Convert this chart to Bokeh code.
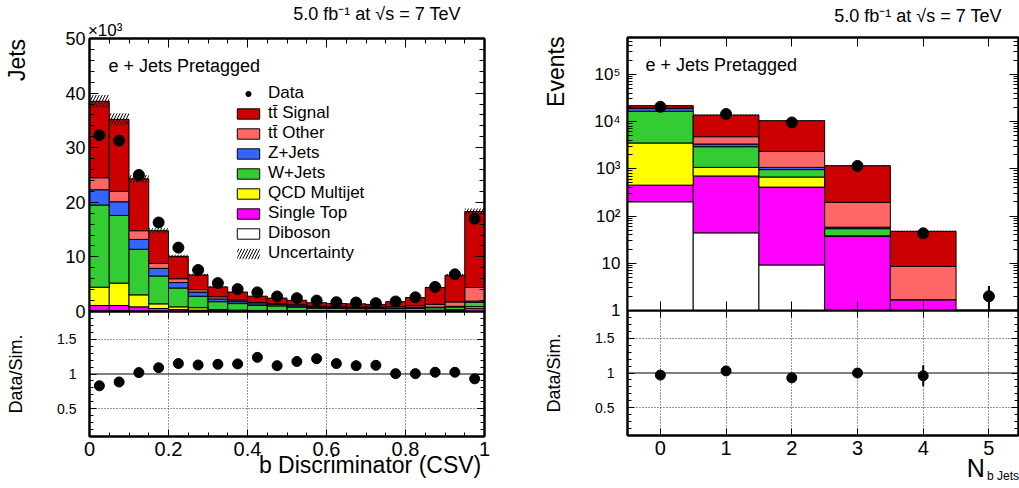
from bokeh.plotting import figure
from bokeh.models import (LinearAxis, LogAxis, FixedTicker, Label, Legend, LegendItem,
                          Span, CustomJSTickFormatter)
from bokeh.layouts import row, column
from bokeh.embed import file_html
from bokeh.resources import INLINE

FONT = "Liberation Sans"
NB = "\u00a0"

# ---------------- left: b discriminator (values in units of 10^3 jets) ----------------
csv_edges = [0.0, 0.05, 0.1, 0.15, 0.2, 0.25, 0.3, 0.35, 0.4, 0.45, 0.5,
             0.55, 0.6, 0.65, 0.7, 0.75, 0.8, 0.85, 0.9, 0.95, 1.0]
csv_centers = [0.025, 0.075, 0.125, 0.175, 0.225, 0.275, 0.325, 0.375, 0.425, 0.475,
               0.525, 0.575, 0.625, 0.675, 0.725, 0.775, 0.825, 0.875, 0.925, 0.975]
csv_diboson = [0.15, 0.15, 0.1, 0.08, 0.05, 0.04, 0.03, 0.03, 0.02, 0.02,
               0.02, 0.02, 0.02, 0.02, 0.02, 0.02, 0.02, 0.02, 0.03, 0.05]
csv_single_top = [0.95, 0.95, 0.75, 0.47, 0.3, 0.21, 0.17, 0.12, 0.13, 0.1,
                  0.1, 0.1, 0.1, 0.1, 0.1, 0.1, 0.12, 0.15, 0.2, 0.55]
csv_qcd = [3.35, 4.1, 2.2, 0.85, 0.5, 0.45, 0.15, 0.1, 0.05, 0.05,
           0.05, 0.05, 0.05, 0.05, 0.05, 0.05, 0.05, 0.08, 0.1, 0.3]
csv_wjets = [15.05, 12.4, 8.35, 5.1, 3.45, 2.1, 1.45, 1.2, 0.9, 0.85,
             0.65, 0.45, 0.4, 0.35, 0.35, 0.35, 0.4, 0.45, 0.5, 0.8]
csv_zjets = [2.8, 2.5, 1.8, 1.4, 1.0, 0.75, 0.5, 0.35, 0.3, 0.25,
             0.2, 0.15, 0.1, 0.1, 0.1, 0.1, 0.1, 0.1, 0.12, 0.2]
csv_tt_other = [2.2, 1.9, 1.6, 0.9, 0.7, 0.45, 0.4, 0.3, 0.25, 0.2,
                0.2, 0.2, 0.2, 0.2, 0.2, 0.25, 0.35, 0.5, 0.8, 2.5]
csv_tt_signal = [14.0, 13.2, 9.5, 6.0, 4.1, 2.7, 1.8, 1.45, 1.15, 0.98,
                 0.83, 0.63, 0.58, 0.58, 0.48, 0.93, 1.51, 3.1, 4.9, 13.9]
csv_uncertainty = [1.15, 1.1, 0.7, 0.45, 0.3, 0.2, 0.14, 0.1, 0.08, 0.07,
                   0.06, 0.05, 0.04, 0.04, 0.04, 0.05, 0.07, 0.13, 0.2, 0.55]
csv_data = [32.3, 31.3, 25.0, 16.3, 11.7, 7.6, 5.2, 4.1, 3.5, 2.75,
            2.44, 2.0, 1.7, 1.65, 1.53, 1.83, 2.6, 4.5, 6.8, 17.0]
csv_ratio = [0.83, 0.885, 1.02, 1.09, 1.15, 1.13, 1.14, 1.145, 1.24, 1.12,
             1.18, 1.22, 1.15, 1.12, 1.125, 1.005, 1.005, 1.025, 1.025, 0.93]

# ---------------- right: number of b jets (events) ----------------
nb_edges = [-0.5, 0.5, 1.5, 2.5, 3.5, 4.5, 5.5]
nb_centers = [0, 1, 2, 3, 4, 5]
nb_diboson = [200, 44, 9.2, 0.5, 0, 0]
nb_single_top = [250, 660, 400, 37, 1.7, 0]
nb_qcd = [3060, 365, 260, 0.5, 0, 0]
nb_wjets = [13000, 1860, 290, 16, 0, 0]
nb_zjets = [2500, 410, 110, 4, 0, 0]
nb_tt_other = [100, 1430, 1260, 137, 6.9, 0]
nb_tt_signal = [2500, 8930, 8070, 965, 38.9, 0]
nb_uncertainty = [650, 420, 330, 40, 1.5, 0]
nb_data = [20500, 14400, 9550, 1150, 43, 2]
nb_data_err = [143, 120, 98, 34, 6.6, 1.3]
nb_ratio_x = [0, 1, 2, 3, 4]
nb_ratio = [0.97, 1.03, 0.93, 1.0, 0.96]
nb_ratio_err = [0.01, 0.01, 0.01, 0.03, 0.15]

# tick positions
csv_major = [0.0, 0.2, 0.4, 0.6, 0.8, 1.0]
jets_major = [0, 10, 20, 30, 40, 50]
jets_minor = list(range(0, 51, 2))
ratio_major = [0.5, 1.0, 1.5]
ratio_minor = [0.1, 0.2, 0.3, 0.4, 0.5, 0.6, 0.7, 0.8, 0.9, 1.0,
               1.1, 1.2, 1.3, 1.4, 1.5, 1.6, 1.7, 1.8, 1.9]
nb_major = [0, 1, 2, 3, 4, 5]
log_major = [1, 10, 100, 1000, 10000, 100000]
log_minor = [m * d for d in [1, 10, 100, 1000, 10000, 100000] for m in range(1, 10)]

labels = ["tt\u0304 Signal", "tt\u0304 Other", "Z+Jets", "W+Jets",
          "QCD Multijet", "Single Top", "Diboson"]
colors = ["#cc0000", "#ff6666", "#3366ff", "#33cc33", "#ffff00", "#ff00ff", "#ffffff"]

TITLE = "5.0 fb\u207b\u00b9 at \u221as = 7 TeV"


def make_fig(**kw):
    p = figure(output_backend="svg", toolbar_location=None,
               x_axis_location=None, y_axis_location=None,
               background_fill_color="white", border_fill_color="white",
               outline_line_color="black", outline_line_width=2,
               min_border=0, **kw)
    p.xgrid.visible = False
    p.ygrid.visible = False
    return p


def set_label(ax, text, size, standoff):
    ax.axis_label = text
    ax.axis_label_text_font = FONT
    ax.axis_label_text_font_size = size
    ax.axis_label_text_font_style = "normal"
    ax.axis_label_text_color = "black"
    try:
        ax.axis_label_standoff = standoff
    except Exception:
        ax.axis_label_standoff = 0


def make_axis(cls, ticks, minor, show_labels=True, font_size="18px", standoff=4,
              major_in=9, minor_in=5, formatter=None):
    ax = cls(ticker=FixedTicker(ticks=ticks, minor_ticks=minor))
    ax.axis_line_color = "black"
    ax.axis_line_width = 2
    ax.major_tick_in = major_in
    ax.major_tick_out = 0
    ax.minor_tick_in = minor_in
    ax.minor_tick_out = 0
    ax.major_tick_line_color = "black"
    ax.minor_tick_line_color = "black"
    ax.major_tick_line_width = 1
    ax.minor_tick_line_width = 1
    if show_labels:
        ax.major_label_text_font = FONT
        ax.major_label_text_font_size = font_size
        ax.major_label_text_color = "black"
        ax.major_label_standoff = standoff
        if formatter is not None:
            ax.formatter = formatter
    else:
        ax.major_label_text_font_size = "0px"
        ax.major_label_standoff = 0
        ax.formatter = CustomJSTickFormatter(code="return '';")
    return ax


def text_axis(text, size, standoff):
    # an axis without ticks or line that only carries a (centred) title
    ax = LinearAxis(ticker=FixedTicker(ticks=[], minor_ticks=[]))
    ax.axis_line_color = None
    ax.major_tick_line_color = None
    ax.minor_tick_line_color = None
    ax.major_tick_in = 0
    ax.major_tick_out = 0
    ax.minor_tick_in = 0
    ax.minor_tick_out = 0
    ax.major_label_text_font_size = "0px"
    ax.major_label_standoff = 0
    ax.formatter = CustomJSTickFormatter(code="return '';")
    set_label(ax, text, size, standoff)
    return ax


def add_label(p, x, y, text, size, align="left", baseline="middle", dx=0, dy=0):
    p.add_layout(Label(x=x, y=y, text=text, x_offset=dx, y_offset=dy,
                       text_font=FONT, text_font_size=size, text_color="black",
                       text_align=align, text_baseline=baseline))


def draw_stack(p, edges, components, floor):
    n = len(edges) - 1
    cur = [0.0] * n
    rends = []
    for comp, col in zip(components, colors[::-1]):
        bot = [max(c, floor) for c in cur]
        top = [max(c + v, floor) for c, v in zip(cur, comp)]
        r = p.quad(left=edges[:-1], right=edges[1:], bottom=bot, top=top,
                   fill_color=col, line_color="black", line_width=1)
        rends.append(r)
        cur = [c + v for c, v in zip(cur, comp)]
    return rends[::-1], cur


def style_ratio_grid(p, xticks):
    p.xgrid.visible = True
    p.ygrid.visible = True
    p.xgrid.ticker = FixedTicker(ticks=xticks)
    p.ygrid.ticker = FixedTicker(ticks=[0.5, 1.5])
    for g in (p.xgrid[0], p.ygrid[0]):
        g.grid_line_color = "#333333"
        g.grid_line_dash = "1 2"
        g.grid_line_width = 1
    p.add_layout(Span(location=1.0, dimension="width", line_color="black", line_width=1))


def tostr():
    return CustomJSTickFormatter(code="return tick.toString();")


logfmt = CustomJSTickFormatter(code="""
const sup = {2: '\u00b2', 3: '\u00b3', 4: '\u2074', 5: '\u2075'};
const e = Math.round(Math.log10(tick));
if (e == 0) { return '1'; }
if (e == 1) { return '10'; }
return '10' + sup[e];
""")

# ======================= left top =======================
lt = make_fig(frame_width=395, frame_height=273, min_border_left=89, min_border_right=26,
              min_border_top=37, min_border_bottom=10, x_range=(0, 1), y_range=(0, 50))
comps_l = [csv_diboson, csv_single_top, csv_qcd, csv_wjets, csv_zjets, csv_tt_other, csv_tt_signal]
rends_l, total_l = draw_stack(lt, csv_edges, comps_l, 0.0)
r_unc = lt.quad(left=csv_edges[:-1], right=csv_edges[1:],
                bottom=[t - u for t, u in zip(total_l, csv_uncertainty)],
                top=[t + u for t, u in zip(total_l, csv_uncertainty)],
                fill_color=None, fill_alpha=0, line_color=None,
                hatch_pattern="/", hatch_color="black", hatch_scale=6, hatch_weight=1)
r_data = lt.scatter(csv_centers, csv_data, size=11, color="black", marker="circle")

lt.add_layout(make_axis(LinearAxis, jets_major, jets_minor, True, "18px", 4), "left")
lt.add_layout(text_axis(NB * 36 + "Jets", "23px", 33), "left")
lt.add_layout(make_axis(LinearAxis, jets_major, jets_minor, False), "right")
lt.add_layout(make_axis(LinearAxis, csv_major, csv_edges, False), "above")
lt.add_layout(text_axis("\u00d710\u00b3" + NB * 77, "17px", -1), "above")
lt.add_layout(text_axis(NB * 36 + TITLE, "18px", -6), "above")
lt.add_layout(make_axis(LinearAxis, csv_major, csv_edges, False), "below")

items = [LegendItem(label="Data", renderers=[r_data])]
for lab_txt, r in zip(labels, rends_l):
    items.append(LegendItem(label=lab_txt, renderers=[r]))
items.append(LegendItem(label="Uncertainty", renderers=[r_unc]))
legend = Legend(items=items, location=(145, 48), orientation="vertical",
                padding=0, margin=0, spacing=0, glyph_width=28, glyph_height=13,
                label_height=19, label_standoff=6, label_text_font=FONT,
                label_text_font_size="17px", label_text_color="black",
                background_fill_alpha=0, border_line_alpha=0)
lt.add_layout(legend)
add_label(lt, 0, 50, "e + Jets Pretagged", "18px", align="left", dx=19, dy=-27)

# ======================= left bottom =======================
lb = make_fig(frame_width=395, frame_height=125, min_border_left=89, min_border_right=26,
              min_border_top=0, min_border_bottom=53, x_range=(0, 1), y_range=(0.1, 1.9))
lb.border_fill_color = None
style_ratio_grid(lb, [0.2, 0.4, 0.6, 0.8])
lb.scatter(csv_centers, csv_ratio, size=10, color="black", marker="circle")
ax = make_axis(LinearAxis, ratio_major, ratio_minor, True, "14px", 13, 7, 4, tostr())
set_label(ax, "Data/Sim.", "18px", 28)
lb.add_layout(ax, "left")
lb.add_layout(make_axis(LinearAxis, ratio_major, ratio_minor, False, major_in=7, minor_in=4), "right")
lb.add_layout(make_axis(LinearAxis, csv_major, csv_edges, True, "20px", 5, 7, 4, tostr()), "below")
lb.add_layout(text_axis(NB * 26 + "b Discriminator (CSV)", "23px", -7), "below")
lb.add_layout(make_axis(LinearAxis, csv_major, csv_edges, False, major_in=7, minor_in=4), "above")

# ======================= right top =======================
rt = make_fig(frame_width=391, frame_height=273, min_border_left=117, min_border_right=1,
              min_border_top=37, min_border_bottom=10, x_range=(-0.5, 5.45), y_range=(1, 6e5),
              y_axis_type="log")
comps_r = [nb_diboson, nb_single_top, nb_qcd, nb_wjets, nb_zjets, nb_tt_other, nb_tt_signal]
rends_r, total_r = draw_stack(rt, nb_edges, comps_r, 0.01)
rt.quad(left=nb_edges[:-1], right=nb_edges[1:],
        bottom=[max(t - u, 0.01) for t, u in zip(total_r, nb_uncertainty)],
        top=[max(t + u, 0.01) for t, u in zip(total_r, nb_uncertainty)],
        fill_color=None, fill_alpha=0, line_color=None,
        hatch_pattern="/", hatch_color="black", hatch_scale=6, hatch_weight=1)
rt.segment(x0=nb_centers, x1=nb_centers,
           y0=[max(d - e, 0.01) for d, e in zip(nb_data, nb_data_err)],
           y1=[d + e for d, e in zip(nb_data, nb_data_err)], line_color="black", line_width=2)
rt.scatter(nb_centers, nb_data, size=11, color="black", marker="circle")
rt.add_layout(make_axis(LogAxis, log_major, log_minor, True, "17px", 7, 9, 5, logfmt), "left")
rt.add_layout(text_axis(NB * 32 + "Events", "23px", 23), "left")
rt.add_layout(make_axis(LogAxis, log_major, log_minor, False), "right")
rt.add_layout(make_axis(LinearAxis, nb_major, [], False), "above")
rt.add_layout(text_axis(NB * 38 + TITLE, "18px", 12), "above")
rt.add_layout(make_axis(LinearAxis, nb_major, [], False), "below")
add_label(rt, -0.5, 6e5, "e + Jets Pretagged", "18px", align="left", dx=18, dy=-27)

# ======================= right bottom =======================
rb = make_fig(frame_width=391, frame_height=125, min_border_left=117, min_border_right=1,
              min_border_top=0, min_border_bottom=53, x_range=(-0.5, 5.45), y_range=(0.1, 1.9))
rb.border_fill_color = None
style_ratio_grid(rb, nb_major)
rb.segment(x0=nb_ratio_x, x1=nb_ratio_x,
           y0=[r - e for r, e in zip(nb_ratio, nb_ratio_err)],
           y1=[r + e for r, e in zip(nb_ratio, nb_ratio_err)], line_color="black", line_width=2)
rb.scatter(nb_ratio_x, nb_ratio, size=10, color="black", marker="circle")
ax = make_axis(LinearAxis, ratio_major, ratio_minor, True, "14px", 13, 7, 4, tostr())
set_label(ax, "Data/Sim.", "18px", 28)
rb.add_layout(ax, "left")
rb.add_layout(make_axis(LinearAxis, ratio_major, ratio_minor, False, major_in=7, minor_in=4), "right")
rb.add_layout(make_axis(LinearAxis, nb_major, [], True, "20px", 5, 7, 4, tostr()), "below")
rb.add_layout(text_axis(NB * 44 + "N", "25px", -4), "below")
rb.add_layout(text_axis(NB * 108 + "b Jets", "12px", -16), "below")
rb.add_layout(make_axis(LinearAxis, nb_major, [], False, major_in=7, minor_in=4), "above")

lb.margin = (-10, 0, 0, 0)
rb.margin = (-10, 0, 0, 0)
layout = row(column(lt, lb, spacing=0), column(rt, rb, spacing=0), spacing=0)
open("out.html", "w").write(file_html(layout, INLINE))
